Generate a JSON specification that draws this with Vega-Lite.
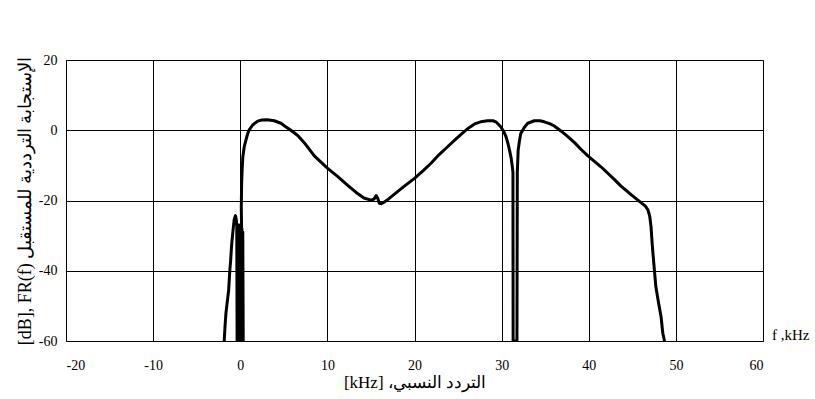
{
  "$schema": "https://vega.github.io/schema/vega-lite/v6.json",
  "width": 697,
  "height": 281,
  "autosize": {"type": "none"},
  "padding": {"left": 66, "top": 60, "right": 52, "bottom": 58},
  "background": "white",
  "config": {
    "view": {"stroke": "#555", "strokeWidth": 1},
    "font": "Liberation Serif",
    "axis": {
      "labelColor": "#000",
      "titleFontWeight": "normal",
      "titleColor": "#000",
      "gridColor": "#000",
      "gridOpacity": 1,
      "gridWidth": 1,
      "ticks": false,
      "domain": false
    }
  },
  "layer": [
    {
      "data": {
        "values": [
          {"f": -1.84, "r": -60}, {"f": -1.75, "r": -56}, {"f": -1.64, "r": -52}, {"f": -1.45, "r": -48},
          {"f": -1.33, "r": -45.5}, {"f": -1.2, "r": -40}, {"f": -1.1, "r": -37}, {"f": -1.0, "r": -33},
          {"f": -0.85, "r": -29}, {"f": -0.7, "r": -25.5}, {"f": -0.55, "r": -24.3}, {"f": -0.45, "r": -25.5},
          {"f": -0.4, "r": -27}, {"f": -0.36, "r": -60}, {"f": -0.31, "r": -27}, {"f": -0.26, "r": -60},
          {"f": -0.21, "r": -27}, {"f": -0.16, "r": -60}, {"f": -0.11, "r": -27}, {"f": -0.06, "r": -60},
          {"f": -0.01, "r": -27}, {"f": 0.04, "r": -60}, {"f": 0.09, "r": -28}, {"f": 0.14, "r": -60},
          {"f": 0.19, "r": -28}, {"f": 0.24, "r": -60}, {"f": 0.29, "r": -29}, {"f": 0.34, "r": -60},
          {"f": 0.12, "r": -22},
          {"f": 0.16, "r": -15}, {"f": 0.22, "r": -11}, {"f": 0.3, "r": -7.5}, {"f": 0.46, "r": -4.7},
          {"f": 0.65, "r": -2.8}, {"f": 0.85, "r": -1}, {"f": 1.03, "r": 0.1}, {"f": 1.42, "r": 1.5},
          {"f": 2.0, "r": 2.6}, {"f": 2.5, "r": 2.9}, {"f": 3.1, "r": 3.0}, {"f": 3.9, "r": 2.7},
          {"f": 4.67, "r": 2.0}, {"f": 5.05, "r": 1.3}, {"f": 5.8, "r": 0}, {"f": 6.6, "r": -1.5},
          {"f": 7.5, "r": -4}, {"f": 8.5, "r": -7.3}, {"f": 10.0, "r": -10.8}, {"f": 11.2, "r": -13.2},
          {"f": 12.3, "r": -15.6}, {"f": 13.3, "r": -17.7}, {"f": 14.2, "r": -19.3}, {"f": 15.0, "r": -19.9},
          {"f": 15.35, "r": -19.6}, {"f": 15.6, "r": -18.6}, {"f": 15.8, "r": -19.5}, {"f": 15.96, "r": -20.8},
          {"f": 16.2, "r": -20.9}, {"f": 16.5, "r": -20.5}, {"f": 17.0, "r": -19.6}, {"f": 17.7, "r": -18.2},
          {"f": 18.8, "r": -16}, {"f": 20.0, "r": -13.7}, {"f": 21.0, "r": -11.5}, {"f": 21.9, "r": -9.4},
          {"f": 22.8, "r": -7}, {"f": 23.8, "r": -4.7}, {"f": 24.8, "r": -2.4}, {"f": 25.7, "r": -0.4},
          {"f": 26.3, "r": 0.8}, {"f": 26.9, "r": 1.8}, {"f": 27.6, "r": 2.4}, {"f": 28.4, "r": 2.7},
          {"f": 29.0, "r": 2.7}, {"f": 29.4, "r": 2.3}, {"f": 29.9, "r": 1.0}, {"f": 30.2, "r": -0.2},
          {"f": 30.5, "r": -1.8}, {"f": 30.7, "r": -3.5}, {"f": 30.9, "r": -5.6}, {"f": 31.1, "r": -8},
          {"f": 31.25, "r": -10.8}, {"f": 31.3, "r": -12}, {"f": 31.32, "r": -60}, {"f": 31.76, "r": -60},
          {"f": 31.8, "r": -12}, {"f": 31.9, "r": -5.6}, {"f": 32.05, "r": -3}, {"f": 32.2, "r": -0.9},
          {"f": 32.6, "r": 0.8}, {"f": 33.0, "r": 2.0}, {"f": 33.75, "r": 2.7}, {"f": 34.4, "r": 2.7},
          {"f": 34.9, "r": 2.4}, {"f": 35.5, "r": 1.9}, {"f": 36.05, "r": 1.2}, {"f": 36.8, "r": -0.2},
          {"f": 37.6, "r": -1.8}, {"f": 38.4, "r": -3.6}, {"f": 39.1, "r": -5.4}, {"f": 39.9, "r": -7.3},
          {"f": 41.4, "r": -10.4}, {"f": 42.9, "r": -13.9}, {"f": 43.7, "r": -15.9}, {"f": 45.0, "r": -18.6},
          {"f": 46.0, "r": -20.6}, {"f": 46.5, "r": -21.6}, {"f": 46.8, "r": -22.7}, {"f": 47.0, "r": -24.5},
          {"f": 47.15, "r": -27.5}, {"f": 47.3, "r": -33}, {"f": 47.5, "r": -38.8}, {"f": 47.7, "r": -44.5},
          {"f": 48.0, "r": -49}, {"f": 48.3, "r": -53.1}, {"f": 48.5, "r": -57.8}, {"f": 48.7, "r": -60}
        ]
      },
      "mark": {"type": "line", "color": "#000", "strokeWidth": 3, "strokeJoin": "round", "clip": true},
      "encoding": {
        "x": {
          "field": "f", "type": "quantitative",
          "scale": {"domain": [-20, 60], "nice": false, "zero": false},
          "axis": {
            "values": [-20, -10, 0, 10, 20, 30, 40, 50, 60],
            "labelExpr": "'' + datum.value",
            "labelFont": "Liberation Serif",
            "labelFontSize": 14,
            "labelPadding": 17,
            "title": "[kHz] التردد النسبي،‏",
            "titleFont": "Liberation Serif",
            "titleFontSize": 17,
            "titlePadding": 2
          }
        },
        "y": {
          "field": "r", "type": "quantitative",
          "scale": {"domain": [-60, 20], "nice": false, "zero": false},
          "axis": {
            "values": [-60, -40, -20, 0, 20],
            "labelExpr": "'' + datum.value",
            "labelFont": "Liberation Serif",
            "labelFontSize": 14,
            "labelPadding": 9,
            "title": "[dB], FR(f)  الإستجابة الترددية للمستقبل",
            "titleFont": "Liberation Serif",
            "titleFontSize": 18,
            "titlePadding": 4
          }
        },
        "order": {"value": null}
      }
    },
    {
      "data": {"values": [{"f": 60, "r": -60, "t": "f ,kHz"}]},
      "mark": {"type": "text", "align": "left", "baseline": "alphabetic", "dx": 9, "dy": -1, "fontSize": 15, "font": "Liberation Serif", "color": "#000"},
      "encoding": {
        "x": {"field": "f", "type": "quantitative"},
        "y": {"field": "r", "type": "quantitative"},
        "text": {"field": "t"}
      }
    }
  ]
}
